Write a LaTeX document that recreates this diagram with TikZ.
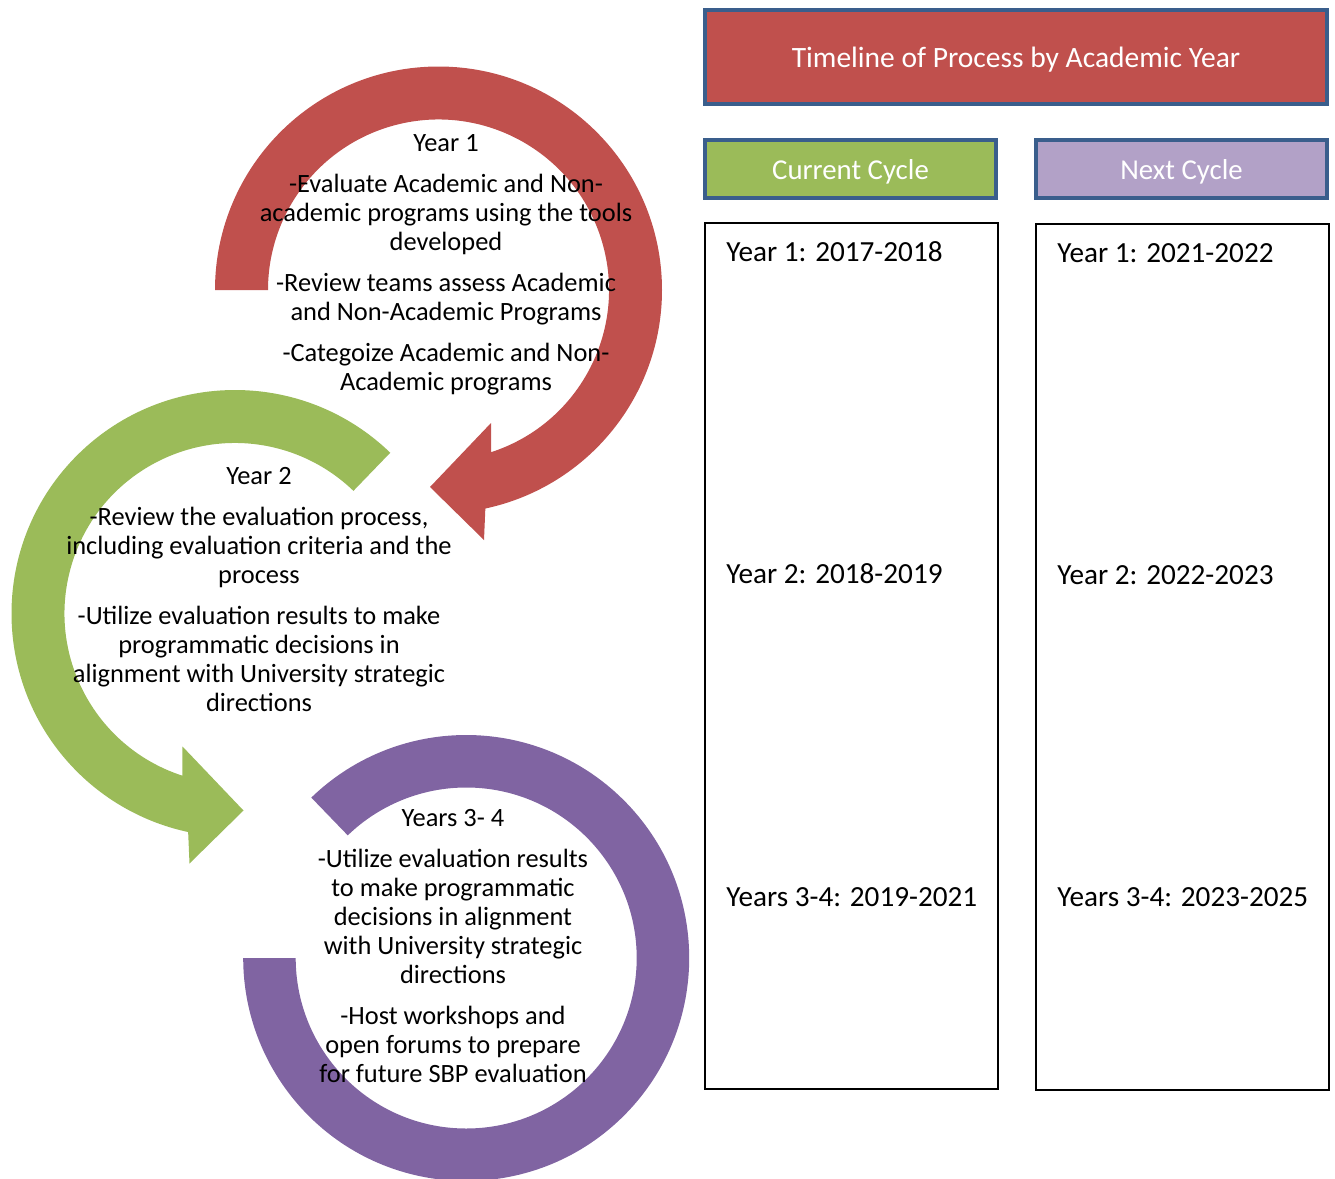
\documentclass[tikz,border=0pt]{standalone}
\usepackage{fontspec}
\setmainfont{Carlito}
\definecolor{arrowred}{HTML}{C0504D}
\definecolor{arrowgreen}{HTML}{9BBB59}
\definecolor{arrowpurple}{HTML}{8064A2}
\definecolor{lightpurple}{HTML}{B2A1C7}
\definecolor{edgeblue}{HTML}{3A5E8C}
\begin{document}
\begin{tikzpicture}[x=0.5pt,y=0.5pt,
    steptext/.style={align=center,inner sep=0pt,font=\fontsize{13.2}{14.5}\selectfont},
    headbox/.style={draw=edgeblue,line width=2pt,text=white,inner sep=0pt,text depth=0pt,
        font=\fontsize{14.4}{16}\selectfont},
    yearbox/.style={draw=black,line width=0.7pt,fill=white,inner sep=0pt,
        minimum width=146.5pt,minimum height=433pt},
    yeartext/.style={anchor=west,inner sep=0pt,font=\fontsize{14.6}{16}\selectfont}]
    \useasboundingbox (0,0) rectangle (1335,-1179);

    % Draw circular arrows
    \begin{scope}[shift={(438.5,-290)}]
        \fill[arrowred] (180:223.5) arc[start angle=180,end angle=-77.9,radius=223.5]
            -- (45.5,-250) -- (-8.5,-197) -- (52.5,-133)
            -- (-72:170.5) arc[start angle=-72,end angle=180,radius=170.5] -- cycle;
    \end{scope}
    \begin{scope}[shift={(235,-613.5)}]
        \fill[arrowgreen] (46:223.5) arc[start angle=46,end angle=257.9,radius=223.5]
            -- (-45.5,-250) -- (8.5,-197) -- (-52.5,-133)
            -- (252:170.5) arc[start angle=252,end angle=46,radius=170.5] -- cycle;
    \end{scope}
    \begin{scope}[shift={(466.2,-958)}]
        \fill[arrowpurple] (134:223) arc[start angle=134,end angle=-180,radius=223]
            -- (180:170.5) arc[start angle=-180,end angle=134,radius=170.5] -- cycle;
    \end{scope}

    % Text of each step
    \node (step_1) [steptext] at (446,-265) {Year 1\\[6pt]
        -Evaluate Academic and Non-\\academic programs using the tools\\developed\\[6pt]
        -Review teams assess Academic\\and Non-Academic Programs\\[6pt]
        -Categoize Academic and Non-\\Academic programs};
    \node (step_2) [steptext] at (259,-589.5) {Year 2\\[6pt]
        -Review the evaluation process,\\including evaluation criteria and the\\process\\[6pt]
        -Utilize evaluation results to make\\programmatic decisions in\\alignment with University strategic\\directions};
    \node (step_3) [steptext] at (453,-946) {Years 3- 4\\[6pt]
        -Utilize evaluation results\\to make programmatic\\decisions in alignment\\with University strategic\\directions\\[6pt]
        -Host workshops and\\open forums to prepare\\for future SBP evaluation};

    % Timeline table
    \node (title) [headbox,fill=arrowred,minimum width=311pt,minimum height=47pt,
        font=\fontsize{14.75}{16}\selectfont]
        at (1016,-57) {Timeline of Process by Academic Year};
    \node (cur_head) [headbox,fill=arrowgreen,minimum width=145.5pt,minimum height=29pt]
        at (850.5,-169) {Current Cycle};
    \node (next_head) [headbox,fill=lightpurple,minimum width=145.5pt,minimum height=29pt]
        at (1181.5,-169) {Next Cycle};

    \node (cur_col) [yearbox] at (851.5,-656) {};
    \node (next_col) [yearbox] at (1182.5,-657) {};

    \node (cur_y1) [yeartext] at (726,-252) {Year 1: 2017-2018};
    \node (cur_y2) [yeartext] at (726,-574) {Year 2: 2018-2019};
    \node (cur_y3) [yeartext] at (726,-897) {Years 3-4: 2019-2021};
    \node (next_y1) [yeartext] at (1057,-253) {Year 1: 2021-2022};
    \node (next_y2) [yeartext] at (1057,-575) {Year 2: 2022-2023};
    \node (next_y3) [yeartext] at (1057,-897) {Years 3-4: 2023-2025};

\end{tikzpicture}
\end{document}
